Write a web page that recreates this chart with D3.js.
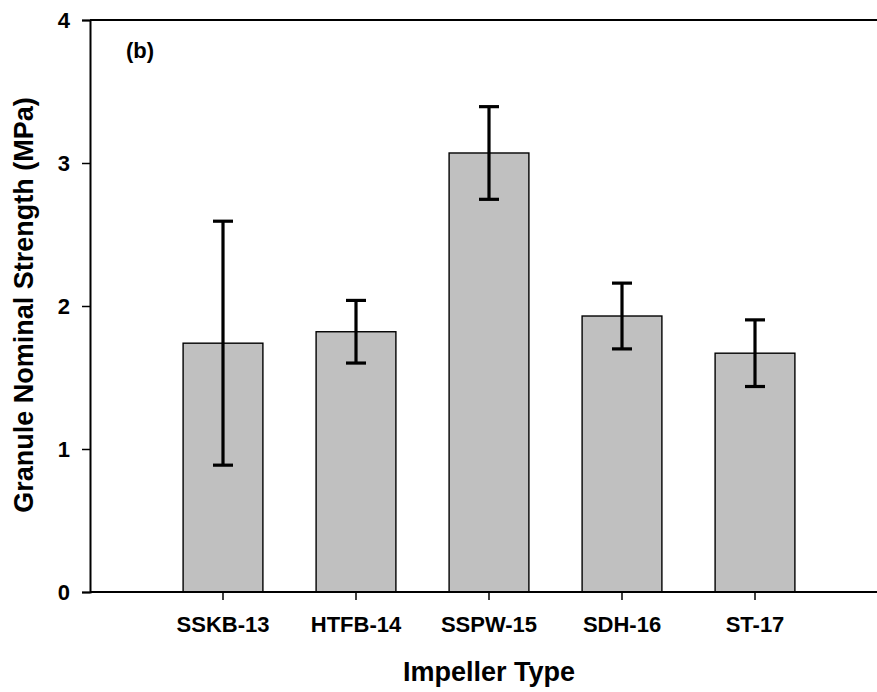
<!DOCTYPE html>
<html>
<head>
<meta charset="utf-8">
<script src="https://cdn.jsdelivr.net/npm/d3@7"></script>
<style>
  html, body { margin: 0; padding: 0; background: #fff; }
  svg text { font-family: "Liberation Sans", Arial, sans-serif; font-weight: bold; fill: #000; }
</style>
</head>
<body>
<svg id="chart" width="877" height="692"></svg>
<script>
// Impeller types and mean granule nominal strength (MPa) with error half-widths
const categories = ["SSKB-13", "HTFB-14", "SSPW-15", "SDH-16", "ST-17"];
const strength   = [1.74, 1.82, 3.07, 1.93, 1.67];
const errors     = [0.853, 0.219, 0.324, 0.23, 0.233];
const yTicks     = [0, 1, 2, 3, 4];

const svg = d3.select("#chart");
const width = 877;
const plotLeft = 90, plotTop = 20, plotBottom = 592;

const x = d3.scaleBand()
  .domain(categories)
  .range([plotLeft, 888])
  .paddingInner(0)
  .paddingOuter(0.5);

const y = d3.scaleLinear()
  .domain([0, 4])
  .range([plotBottom, plotTop]);

const barW = x.bandwidth() * 0.6;

// bars
svg.append("g")
  .selectAll("rect")
  .data(categories)
  .join("rect")
  .attr("x", (d) => x(d) + (x.bandwidth() - barW) / 2)
  .attr("y", (d, i) => y(strength[i]))
  .attr("width", barW)
  .attr("height", (d, i) => y(0) - y(strength[i]))
  .attr("fill", "#c0c0c0")
  .attr("stroke", "#000")
  .attr("stroke-width", 1.4);

// error bars
const eb = svg.append("g").attr("stroke", "#000").attr("stroke-width", 3.2);
categories.forEach((c, i) => {
  const cx = x(c) + x.bandwidth() / 2;
  const hi = y(strength[i] + errors[i]);
  const lo = y(strength[i] - errors[i]);
  eb.append("line").attr("x1", cx).attr("x2", cx).attr("y1", hi).attr("y2", lo);
  eb.append("line").attr("x1", cx - 10).attr("x2", cx + 10).attr("y1", hi).attr("y2", hi);
  eb.append("line").attr("x1", cx - 10).attr("x2", cx + 10).attr("y1", lo).attr("y2", lo);
});

// top frame line
svg.append("line")
  .attr("x1", plotLeft).attr("x2", width)
  .attr("y1", y(4)).attr("y2", y(4))
  .attr("stroke", "#000").attr("stroke-width", 2);

// y axis
const yAxis = svg.append("g")
  .attr("transform", `translate(${plotLeft},0)`)
  .call(d3.axisLeft(y).tickValues(yTicks).tickFormat(d3.format("d")).tickSize(8).tickPadding(12));
yAxis.select(".domain").attr("stroke-width", 2);
yAxis.selectAll(".tick line").attr("stroke-width", 1.5);
yAxis.selectAll("text").style("font-size", "22px");

// x axis
const xAxis = svg.append("g")
  .attr("transform", `translate(0,${plotBottom})`)
  .call(d3.axisBottom(x).tickSize(8).tickPadding(16).tickSizeOuter(0));
xAxis.select(".domain").attr("d", `M${plotLeft},0H${width}`).attr("stroke-width", 2);
xAxis.selectAll(".tick line").attr("stroke-width", 1.5);
xAxis.selectAll("text").style("font-size", "22px");

// axis titles
svg.append("text")
  .attr("x", 489).attr("y", 681)
  .attr("text-anchor", "middle")
  .style("font-size", "27px")
  .text("Impeller Type");

svg.append("text")
  .attr("transform", `translate(33,305) rotate(-90)`)
  .attr("text-anchor", "middle")
  .style("font-size", "27px")
  .text("Granule Nominal Strength (MPa)");

// panel label
svg.append("text")
  .attr("x", 126).attr("y", 58)
  .style("font-size", "22px")
  .text("(b)");
</script>
</body>
</html>
